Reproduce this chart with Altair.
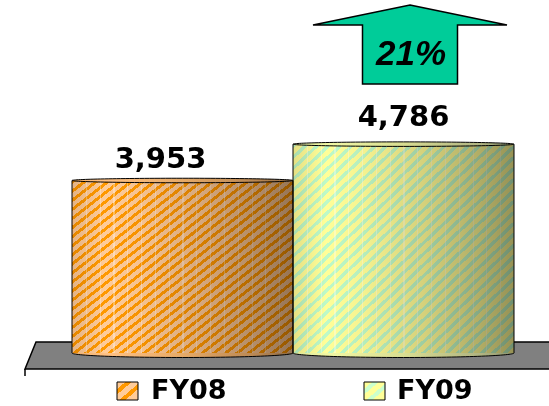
import altair as alt
import pandas as pd

# ---------------- data ----------------
categories = ["FY08", "FY09"]
values = [3953, 4786]
value_labels = ["3,953", "4,786"]

df = pd.DataFrame({"year": categories, "value": values, "label": value_labels})
growth_label = f"{round((values[1] / values[0] - 1) * 100)}%"

# ---------------- styles ----------------
W, H = 549, 406
X_RANGE = [72, 514]
Y_DOMAIN = [0, 5000]
Y_RANGE = [353, 134.8]
BAND = X_RANGE[1] - X_RANGE[0]
BAND_W = BAND / 2
ELL_SIZE = BAND_W ** 2
LABEL_DX = [-22, 0]
LABEL_DY = [-12, -18]
LEGEND_SQ_X = [117, 364]
LEGEND_TX_X = [151, 397]

base_color = {"FY08": "#FFCC99", "FY09": "#FFFF99"}
stripe_color = {"FY08": "rgba(255,153,0,1)", "FY09": "rgba(190,250,200,1)"}
stripe_clear = {"FY08": "rgba(255,153,0,0)", "FY09": "rgba(190,250,200,0)"}
cap_stops = {
    "FY08": [("#EDAE6B", 0), ("#FFC184", 0.15), ("#E6AA68", 0.5), ("#B68552", 0.85), ("#8A6A45", 1)],
    "FY09": [("#D8E49C", 0), ("#F2F8A4", 0.15), ("#D9DD92", 0.5), ("#B0B482", 0.85), ("#8C9470", 1)],
}
# multiplicative shading (opaque greys, blended with "multiply")
shade_stops = [
    ("#E4E0DC", 0), ("#FFFFFF", 0.15), ("#F6F4F2", 0.3),
    ("#D4D0CC", 0.6), ("#B0ACA8", 0.85), ("#96928E", 1),
]
FACETS = 16


def hgrad(stops):
    return alt.Gradient(gradient="linear", x1=0, y1=0, x2=1, y2=0,
                        stops=[alt.GradientStop(color=c, offset=o) for c, o in stops])


def stripe_grad(color, clear, n, duty):
    stops = []
    for k in range(n):
        a = k / n
        b = (k + duty) / n
        stops += [alt.GradientStop(color=clear, offset=a), alt.GradientStop(color=color, offset=a),
                  alt.GradientStop(color=color, offset=b), alt.GradientStop(color=clear, offset=b)]
    return alt.Gradient(gradient="linear", x1=0, y1=0, x2=1, y2=1, stops=stops)


def facet_grad(n):
    clear, line = "rgba(255,255,255,0)", "rgba(255,255,255,0.35)"
    stops = []
    for k in range(1, n):
        a = k / n
        b = a + 0.005
        stops += [alt.GradientStop(color=clear, offset=a), alt.GradientStop(color=line, offset=a),
                  alt.GradientStop(color=line, offset=b), alt.GradientStop(color=clear, offset=b)]
    return alt.Gradient(gradient="linear", x1=0, y1=0, x2=1, y2=0, stops=stops)


def ellipse_path(ry):
    k = 0.5523
    return (f"M-1,0 C-1,{-k*ry:.4f} {-k:.4f},{-ry:.4f} 0,{-ry:.4f} "
            f"C{k:.4f},{-ry:.4f} 1,{-k*ry:.4f} 1,0 "
            f"C1,{k*ry:.4f} {k:.4f},{ry:.4f} 0,{ry:.4f} "
            f"C{-k:.4f},{ry:.4f} -1,{k*ry:.4f} -1,0 Z")


TOP_PATH = ellipse_path(4.5 / BAND_W)
BOT_PATH = ellipse_path(9 / BAND_W)
FLOOR_PATH = "M0.36,3.42 L5.7,3.42 L5.7,3.69 L0.25,3.69 Z"
ARROW_PATH = ("M0,-0.40 L0.97,-0.20 L0.475,-0.20 L0.475,0.39 "
              "L-0.475,0.39 L-0.475,-0.20 L-0.97,-0.20 Z")

xs = alt.Scale(domain=categories, range=X_RANGE, paddingInner=0, paddingOuter=0)
ys = alt.Scale(domain=Y_DOMAIN, range=Y_RANGE, zero=False, nice=False)
X = alt.X("year:N", scale=xs, axis=None, title=None)
Y = alt.Y("value:Q", scale=ys, axis=None, title=None)

one = pd.DataFrame({"k": [0]})
base = alt.Chart(df)

layers = []
# floor
layers.append(alt.Chart(one).mark_point(
    shape=FLOOR_PATH, size=40000, filled=True, fill="#808080", stroke="black",
    strokeWidth=1.5, opacity=1).encode(x=alt.value(0), y=alt.value(0)))
layers.append(alt.Chart(one).mark_rule(color="black", strokeWidth=1.5).encode(
    x=alt.value(25), y=alt.value(369), y2=alt.value(376)))

for i, cat in enumerate(categories):
    sub = base.transform_filter(alt.datum.year == cat)
    # bottom ellipse
    layers.append(sub.transform_calculate(value="0").mark_point(
        shape=BOT_PATH, size=ELL_SIZE, filled=True, fill=hgrad(cap_stops[cat]),
        stroke="black", strokeWidth=1, opacity=1).encode(x=X, y=Y))
    # body base
    layers.append(sub.mark_bar(fill=base_color[cat], opacity=1).encode(
        x=X, y=Y, y2=alt.datum(0)))
    # stripes
    layers.append(sub.mark_bar(fill=stripe_grad(stripe_color[cat], stripe_clear[cat], 38, 0.42),
                               opacity=1).encode(x=X, y=Y, y2=alt.datum(0)))
    # thin vertical facet lines
    layers.append(sub.mark_bar(fill=facet_grad(FACETS), opacity=1).encode(
        x=X, y=Y, y2=alt.datum(0)))
    # shading overlay
    layers.append(sub.mark_bar(fill=hgrad(shade_stops), opacity=1, blend="multiply").encode(
        x=X, y=Y, y2=alt.datum(0)))

# side outlines
for bp in (0, 1):
    layers.append(base.mark_rule(color="black", strokeWidth=1).encode(
        x=alt.X("year:N", scale=xs, axis=None, title=None, bandPosition=bp), y=Y, y2=alt.datum(0)))

for i, cat in enumerate(categories):
    sub = base.transform_filter(alt.datum.year == cat)
    layers.append(sub.mark_point(shape=TOP_PATH, size=ELL_SIZE, filled=True, fill=hgrad(cap_stops[cat]),
                                 stroke="black", strokeWidth=1, opacity=1).encode(x=X, y=Y))
    layers.append(sub.mark_text(font="DejaVu Sans", fontWeight="bold", fontSize=29, color="black",
                                align="center", baseline="alphabetic",
                                dx=LABEL_DX[i], dy=LABEL_DY[i]).encode(x=X, y=Y, text="label:N"))

# growth arrow
layers.append(alt.Chart(one).mark_point(
    shape=ARROW_PATH, size=40000, filled=True, fill="#00CC99", stroke="black",
    strokeWidth=1.5, opacity=1).encode(x=alt.value(410), y=alt.value(45)))
layers.append(alt.Chart(pd.DataFrame({"t": [growth_label]})).mark_text(
    font="Liberation Sans", fontWeight="bold", fontStyle="italic", fontSize=35, color="black",
    align="center", baseline="alphabetic").encode(x=alt.value(411), y=alt.value(65), text="t:N"))

# legend
leg_fill = {
    "FY08": alt.Gradient(gradient="linear", x1=0, y1=0, x2=1, y2=1, stops=[
        alt.GradientStop(color=c, offset=o) for c, o in
        [("#FFCC99", 0), ("#FFCC99", 0.2), ("#FF9900", 0.2), ("#FF9900", 0.35), ("#FFCC99", 0.35),
         ("#FFCC99", 0.55), ("#FF9900", 0.55), ("#FF9900", 0.7), ("#FFCC99", 0.7), ("#FFCC99", 1)]]),
    "FY09": alt.Gradient(gradient="linear", x1=0, y1=0, x2=1, y2=1, stops=[
        alt.GradientStop(color=c, offset=o) for c, o in
        [("#FFFF99", 0), ("#FFFF99", 0.2), ("#CCFFCC", 0.2), ("#CCFFCC", 0.35), ("#FFFF99", 0.35),
         ("#FFFF99", 0.55), ("#CCFFCC", 0.55), ("#CCFFCC", 0.7), ("#FFFF99", 0.7), ("#FFFF99", 1)]]),
}
for i, cat in enumerate(categories):
    sub = base.transform_filter(alt.datum.year == cat)
    layers.append(sub.mark_rect(fill=leg_fill[cat], stroke="black", strokeWidth=1).encode(
        x=alt.value(LEGEND_SQ_X[i]), x2=alt.value(LEGEND_SQ_X[i] + 21),
        y=alt.value(382), y2=alt.value(400)))
    layers.append(sub.mark_text(font="DejaVu Sans", fontWeight="bold", fontSize=27, color="black",
                                align="left", baseline="middle").encode(
        x=alt.value(LEGEND_TX_X[i]), y=alt.value(391), text="year:N"))

chart = alt.layer(*layers).properties(
    width=W, height=H, padding=0, autosize=alt.AutoSizeParams(type="none"), background="white"
).configure_view(strokeWidth=0)

chart.save("out.html", embed_options={"renderer": "svg", "actions": False})
